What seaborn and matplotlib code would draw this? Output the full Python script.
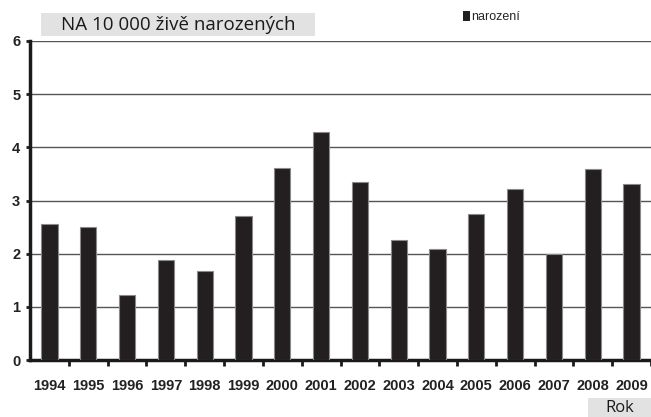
import pandas as pd
import matplotlib.pyplot as plt
import seaborn as sns
from matplotlib.patches import Patch

# data
years = ['1994', '1995', '1996', '1997', '1998', '1999', '2000', '2001',
         '2002', '2003', '2004', '2005', '2006', '2007', '2008', '2009']
values = [2.56, 2.51, 1.23, 1.89, 1.68, 2.70, 3.62, 4.28,
          3.34, 2.25, 2.08, 2.75, 3.22, 2.00, 3.59, 3.31]
y_ticks = [0, 1, 2, 3, 4, 5, 6]
title_txt = 'NA 10 000 živě narozených'
legend_txt = 'narození'
xlab = 'Rok'

df = pd.DataFrame({'rok': years, 'narozeni': values})

sns.set_style('white')
narrow = ['Liberation Sans Narrow', 'Liberation Sans', 'DejaVu Sans']
plt.rcParams['font.family'] = narrow

fig = plt.figure(figsize=(6.51, 4.17), dpi=100)
ax = fig.add_axes([30/651, 1-360/417, 621/651, 319/417])

sns.barplot(data=df, x='rok', y='narozeni', color='#231f20', width=0.42,
            edgecolor='#8a8a8a', linewidth=0.8, saturation=1, ax=ax, zorder=3)

ax.set_xlim(-0.5, len(years)-0.5)
ax.set_ylim(0, 6)
ax.set_yticks(y_ticks)
ax.yaxis.grid(True, color='#555555', linewidth=1.0, zorder=0)
ax.set_axisbelow(True)

for s in ['top', 'right']:
    ax.spines[s].set_visible(False)
ax.spines['left'].set_linewidth(2.5)
ax.spines['left'].set_color('#1a1a1a')
ax.spines['bottom'].set_linewidth(2.5)
ax.spines['bottom'].set_color('#1a1a1a')

# labels at bar centres, small ticks between the bars
ax.set_xticks(range(len(years)))
ax.set_xticklabels(years)
ax.set_xticks([i + 0.5 for i in range(len(years))], minor=True)
ax.tick_params(axis='x', which='major', length=0, pad=14,
               labelsize=10.5)
ax.tick_params(axis='x', which='minor', length=4, width=2, color='#1a1a1a',
               bottom=True)
ax.tick_params(axis='y', length=3, width=2, color='#1a1a1a', left=True,
               labelsize=10.5, pad=4)
for lb in ax.get_xticklabels() + ax.get_yticklabels():
    lb.set_fontweight('bold')
    lb.set_color('#222222')
ax.set_xlabel('')
ax.set_ylabel('')

# title box
fig.patches.append(plt.Rectangle((41/651, 1-36/417), 274/651, 23/417,
                                 transform=fig.transFigure,
                                 facecolor='#e2e2e2', edgecolor='none',
                                 zorder=0))
fig.text(178/651, 1-25/417, title_txt, ha='center', va='center',
         fontsize=13.5, family=['Open Sans', 'DejaVu Sans'], color='#1a1a1a')

# "Rok" box
fig.patches.append(plt.Rectangle((588/651, 0), 63/651, 19/417,
                                 transform=fig.transFigure,
                                 facecolor='#e2e2e2', edgecolor='none',
                                 zorder=0))
fig.text(620/651, 9/417, xlab, ha='center', va='center', fontsize=12,
         family=['Open Sans', 'DejaVu Sans'], color='#1a1a1a')

# legend
fig.legend(handles=[Patch(facecolor='#231f20', edgecolor='none',
                          label=legend_txt)],
           loc='center left', bbox_to_anchor=(457/651, 1-17/417),
           frameon=False, fontsize=9, handlelength=0.55, handleheight=0.8,
           handletextpad=0.1, borderpad=0)

fig.savefig('out.png', dpi=100)
